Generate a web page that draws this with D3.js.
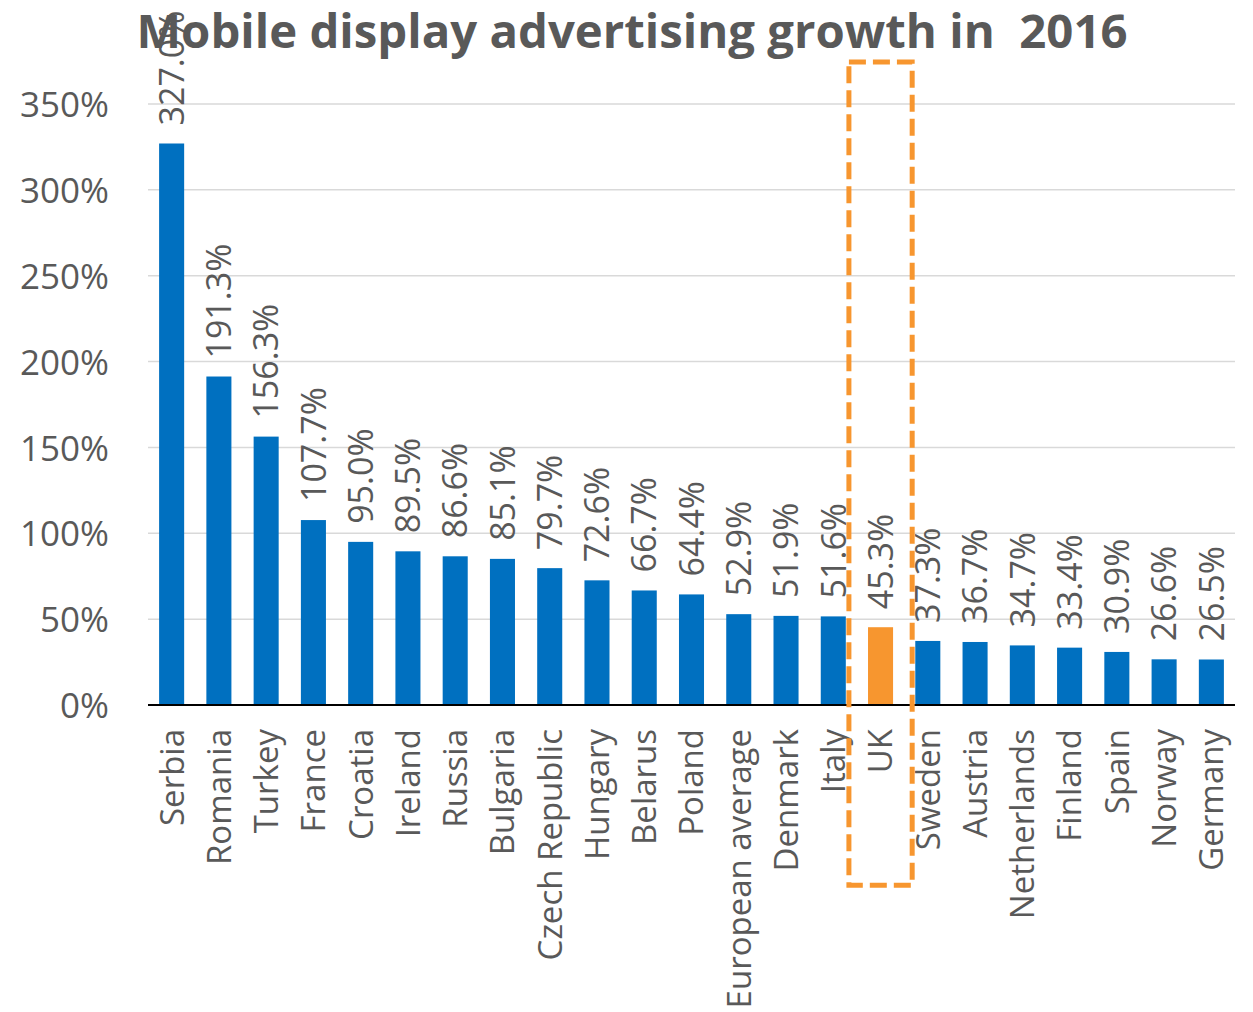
<!DOCTYPE html>
<html>
<head>
<meta charset="utf-8">
<script src="https://cdn.jsdelivr.net/npm/d3@7"></script>
<style>
  html, body { margin: 0; padding: 0; background: #ffffff; }
  svg { display: block; }
  text { font-family: "Open Sans", "Noto Sans", sans-serif; fill: #595959; }
</style>
</head>
<body>
<svg id="chart" width="1253" height="1012"></svg>
<script>
// Growth of mobile display advertising by country, 2016 (percent)
const countries = ["Serbia", "Romania", "Turkey", "France", "Croatia", "Ireland", "Russia",
  "Bulgaria", "Czech Republic", "Hungary", "Belarus", "Poland", "European average",
  "Denmark", "Italy", "UK", "Sweden", "Austria", "Netherlands", "Finland", "Spain",
  "Norway", "Germany"];
const growth = [327.0, 191.3, 156.3, 107.7, 95.0, 89.5, 86.6, 85.1, 79.7, 72.6, 66.7,
  64.4, 52.9, 51.9, 51.6, 45.3, 37.3, 36.7, 34.7, 33.4, 30.9, 26.6, 26.5];
const yTicks = [0, 50, 100, 150, 200, 250, 300, 350];
const highlighted = ["UK"];
const titleText = "Mobile display advertising growth in  2016";

const data = countries.map((c, i) => ({ country: c, value: growth[i] }));

const svg = d3.select("#chart");
const plot = { left: 148, right: 1235, top: 104, bottom: 705 };

const x = d3.scaleBand()
  .domain(countries)
  .range([plot.left, plot.right])
  .paddingInner(0.47)
  .paddingOuter(0.235);

const y = d3.scaleLinear()
  .domain([0, 350])
  .range([plot.bottom, plot.top]);

const blue = "#0070C0";
const orange = "#F7962F";

// horizontal gridlines
svg.append("g")
  .selectAll("line")
  .data(yTicks.filter(t => t > 0))
  .join("line")
  .attr("x1", plot.left)
  .attr("x2", plot.right)
  .attr("y1", d => y(d))
  .attr("y2", d => y(d))
  .attr("stroke", "#d9d9d9")
  .attr("stroke-width", 1.5);

// y axis labels
const yAxis = d3.axisLeft(y)
  .tickValues(yTicks)
  .tickFormat(d => d + "%")
  .tickSize(0)
  .tickPadding(39);
const yG = svg.append("g")
  .attr("transform", `translate(${plot.left},0)`)
  .call(yAxis);
yG.select(".domain").remove();
yG.selectAll("text")
  .attr("font-size", 35)
  .attr("fill", "#595959")
  .attr("font-family", "Open Sans, Noto Sans, sans-serif")
  .attr("dy", "0.36em");

// bars
svg.append("g")
  .selectAll("rect")
  .data(data)
  .join("rect")
  .attr("x", d => x(d.country))
  .attr("width", x.bandwidth())
  .attr("y", d => y(d.value))
  .attr("height", d => y(0) - y(d.value))
  .attr("fill", d => highlighted.includes(d.country) ? orange : blue);

// baseline
svg.append("line")
  .attr("x1", plot.left)
  .attr("x2", plot.right)
  .attr("y1", y(0))
  .attr("y2", y(0))
  .attr("stroke", "#000")
  .attr("stroke-width", 2);

// value labels, rotated
svg.append("g")
  .selectAll("text")
  .data(data)
  .join("text")
  .attr("transform", d => `translate(${x(d.country) + x.bandwidth() / 2},${y(d.value) - 18}) rotate(-90)`)
  .attr("dy", "0.36em")
  .attr("font-size", 34)
  .attr("text-anchor", "start")
  .text(d => d.value.toFixed(1) + "%");

// category labels, rotated
const xAxis = d3.axisBottom(x).tickSize(0).tickPadding(0);
const xG = svg.append("g")
  .attr("transform", `translate(0,${plot.bottom})`)
  .call(xAxis);
xG.select(".domain").remove();
xG.selectAll("text")
  .attr("font-size", 33)
  .attr("fill", "#595959")
  .attr("font-family", "Open Sans, Noto Sans, sans-serif")
  .attr("text-anchor", "end")
  .attr("transform", "translate(0,24) rotate(-90)")
  .attr("x", 0)
  .attr("y", 0)
  .attr("dy", "0.36em");

// dashed highlight box spanning the full band slot of each highlighted country
highlighted.forEach(c => {
  const cx = x(c) + x.bandwidth() / 2;
  const half = x.step() / 2 + 8;
  svg.append("rect")
    .attr("x", cx - half)
    .attr("y", y(374.5))
    .attr("width", half * 2)
    .attr("height", y(-105) - y(374.5))
    .attr("fill", "none")
    .attr("stroke", orange)
    .attr("stroke-width", 5)
    .attr("stroke-dasharray", "17 7");
});

// title
svg.append("text")
  .attr("x", 632)
  .attr("y", 48)
  .attr("text-anchor", "middle")
  .attr("font-size", 46)
  .attr("font-weight", "bold")
  .attr("textLength", 991)
  .attr("lengthAdjust", "spacingAndGlyphs")
  .style("white-space", "pre")
  .attr("xml:space", "preserve")
  .text(titleText);
</script>
</body>
</html>
